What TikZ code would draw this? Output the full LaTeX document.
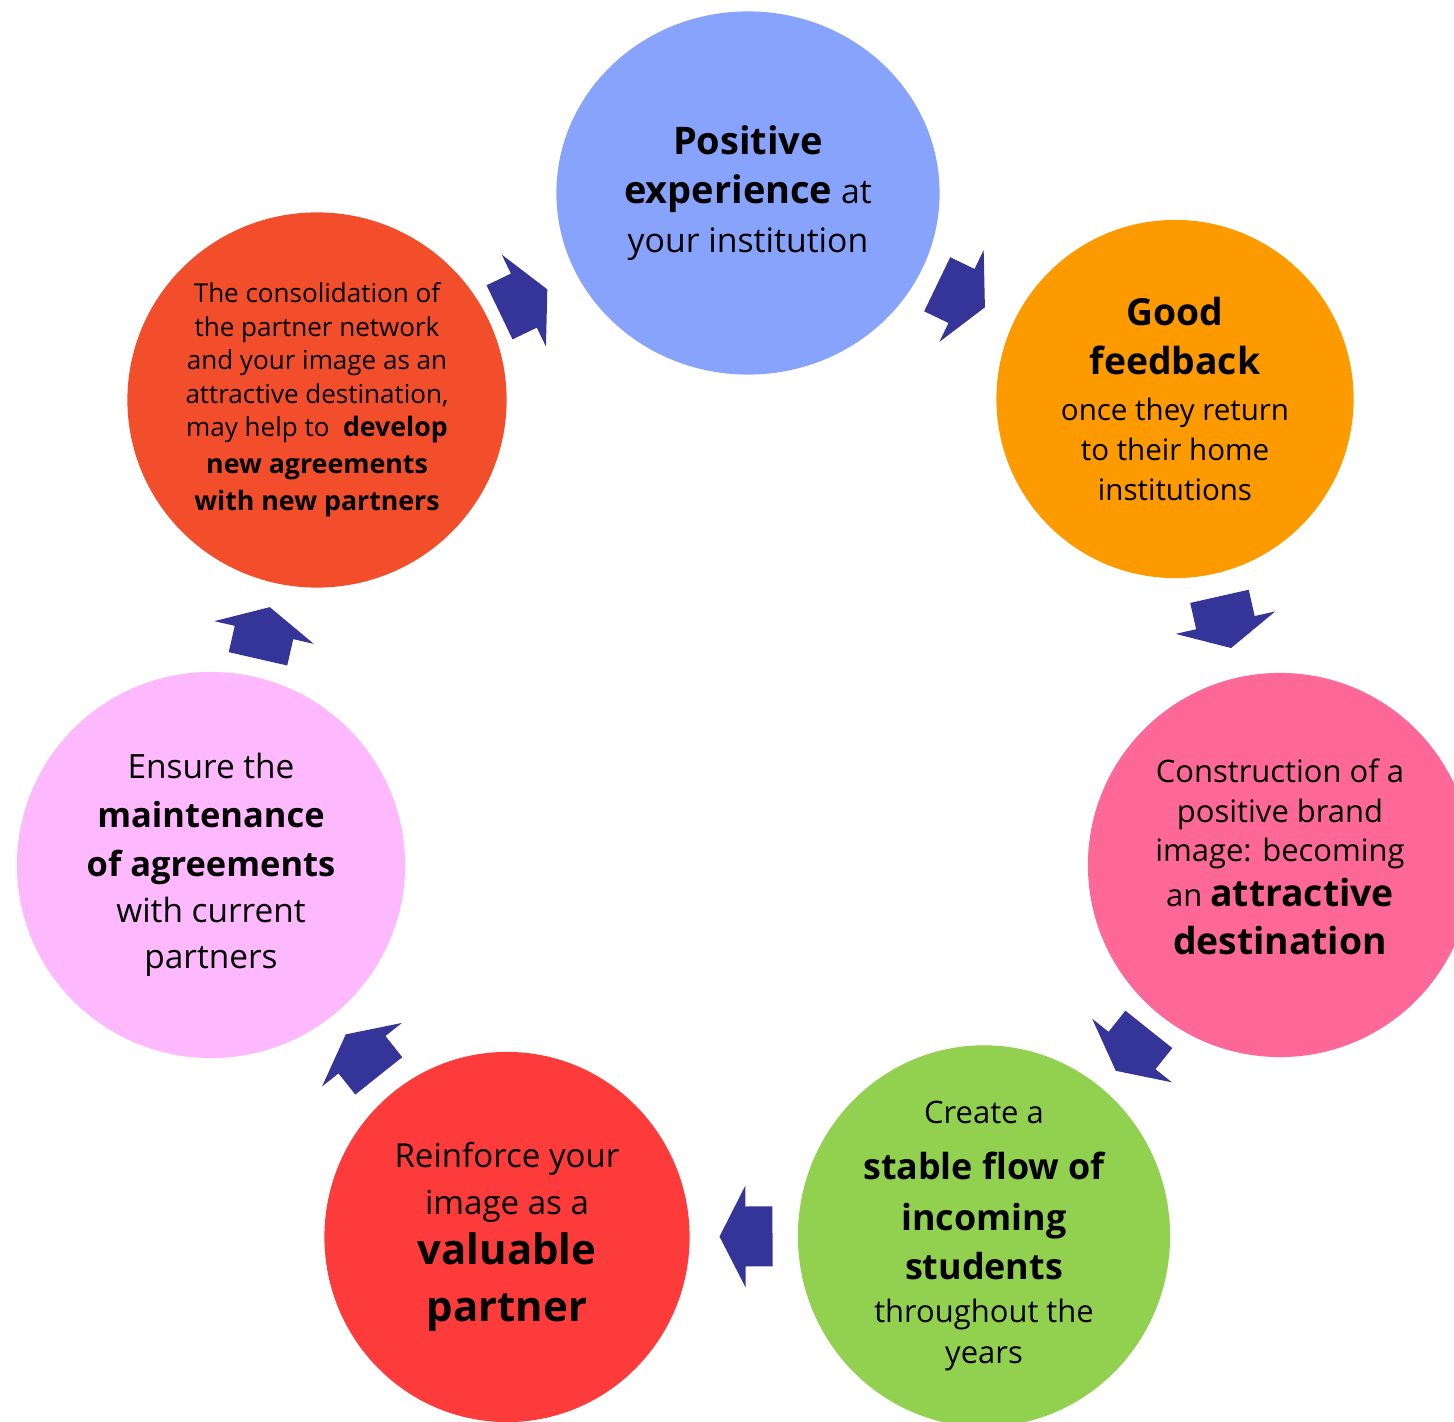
\documentclass[tikz,border=0pt]{standalone}
\usepackage{fontspec}
\setmainfont{Open Sans}
\usepackage{xcolor}
\usetikzlibrary{shapes.geometric}
\usetikzlibrary{calc}
\definecolor{experfill}{HTML}{87A3FC}
\definecolor{feedbfill}{HTML}{FD9A00}
\definecolor{brandfill}{HTML}{FE6898}
\definecolor{flowfill}{HTML}{92D14F}
\definecolor{partnerfill}{HTML}{FD3B3B}
\definecolor{maintfill}{HTML}{FEB8FE}
\definecolor{networkfill}{HTML}{F24E2C}
\definecolor{turnblue}{HTML}{343499}
\tikzstyle{stage}=[ellipse, inner sep=0pt, align=center, text=black]
\tikzstyle{turn}=[fill=turnblue, draw=none]
% bold words with their own size
\newcommand{\stagebf}[2]{{\bfseries\fontsize{#1}{#1}\selectfont #2}}

\begin{document}
\begin{tikzpicture}[x=0.01cm, y=-0.01cm]
\useasboundingbox (0,0) rectangle (1454,1422);

\node[stage, fill=experfill, minimum width=3.83cm, minimum height=3.63cm,
  font=\fontsize{9.6}{13.9}\selectfont] (exper) at (748,193)
  {\stagebf{10.8}{Positive}\\ \stagebf{10.8}{experience} at\\ your institution};
\node[stage, fill=feedbfill, minimum width=3.57cm, minimum height=3.58cm,
  font=\fontsize{8.4}{11.4}\selectfont] (feedb) at (1175,399)
  {\stagebf{10.6}{Good}\\[2.5pt] \stagebf{10.6}{feedback}\\[1.7pt] once they return\\ to their home\\ institutions};
\node[stage, fill=brandfill, minimum width=3.84cm, minimum height=3.84cm,
  font=\fontsize{8.8}{11.2}\selectfont] (brand) at (1280,865)
  {Construction of a\\ positive brand\\ image: becoming\\[1.5pt] an \stagebf{10.6}{attractive}\\[2.6pt] \stagebf{10.6}{destination}\\[-6.6pt]};
\node[stage, fill=flowfill, minimum width=3.72cm, minimum height=3.56cm,
  font=\fontsize{8.8}{11.7}\selectfont] (flow) at (984,1236)
  {Create a\\[4.2pt] \stagebf{10.2}{stable flow of}\\[2.8pt] \stagebf{10.2}{incoming}\\[2.2pt] \stagebf{10.2}{students}\\[0.5pt] throughout the\\ years};
\node[stage, fill=partnerfill, minimum width=3.65cm, minimum height=3.70cm,
  font=\fontsize{9.4}{12.2}\selectfont] (partner) at (507,1237)
  {Reinforce your\\[1.2pt] image as a\\[2pt] \stagebf{11.9}{valuable}\\[4pt] \stagebf{11.9}{partner}};
\node[stage, fill=maintfill, minimum width=3.88cm, minimum height=3.86cm,
  font=\fontsize{9.5}{13.1}\selectfont] (maint) at (211,865)
  {Ensure the\\[0.8pt] \stagebf{9.8}{maintenance}\\[0.8pt] \stagebf{9.8}{of agreements}\\ with current\\ partners};
\node[stage, fill=networkfill, minimum width=3.79cm, minimum height=3.75cm,
  font=\fontsize{7.4}{9.5}\selectfont] (network) at (317,400)
  {The consolidation of\\ the partner network\\ and your image as an\\ attractive destination,\\ may help to \ \stagebf{7.6}{develop}\\[1pt] \stagebf{7.6}{new agreements}\\[1pt] \stagebf{7.6}{with new partners}};

% block arrows between neighbouring stages
\foreach \a/\b/\f in {network/exper/0.48, exper/feedb/0.5, feedb/brand/0.48,
    brand/flow/0.5, flow/partner/0.5, partner/maint/0.49, maint/network/0.5} {
  \path ($(\a)!\f!(\b)$) coordinate (mid-\a);
  \pgfmathanglebetweenpoints{\pgfpointanchor{\a}{center}}{\pgfpointanchor{\b}{center}}
  \let\ang\pgfmathresult
  \fill[turn, shift={(mid-\a)}, rotate=\ang]
    (-27,-30) -- (0,-30) -- (0,-51) -- (26,0) -- (0,51) -- (0,30) -- (-27,30) -- cycle;
}
\end{tikzpicture}
\end{document}
